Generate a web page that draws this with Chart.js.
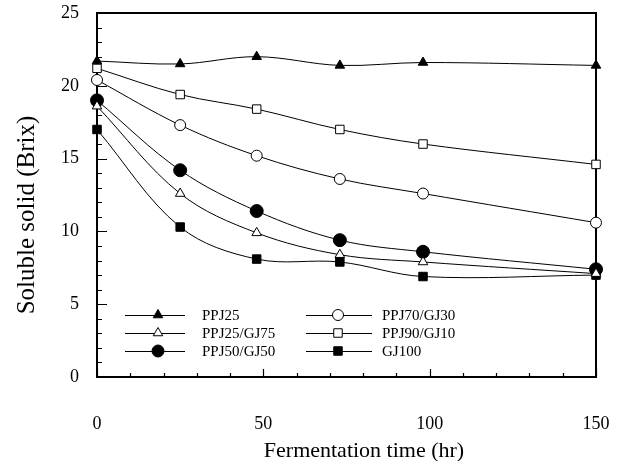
<!DOCTYPE html>
<html>
<head>
<meta charset="utf-8">
<script src="https://cdn.jsdelivr.net/npm/chart.js@4.4.0/dist/chart.umd.min.js"></script>
<style>
  html, body { margin: 0; padding: 0; background: #fff; }
</style>
</head>
<body>
<canvas id="brixChart" width="624" height="461"></canvas>
<script>
// Data
const hours = [0, 25, 48, 73, 98, 150];
const ppj25 = [21.7, 21.5, 22.0, 21.4, 21.6, 21.4];
const ppj25gj75 = [18.6, 12.6, 9.9, 8.4, 7.9, 7.1];
const ppj50gj50 = [19.0, 14.2, 11.4, 9.4, 8.6, 7.4];
const ppj70gj30 = [20.4, 17.3, 15.2, 13.6, 12.6, 10.6];
const ppj90gj10 = [21.2, 19.4, 18.4, 17.0, 16.0, 14.6];
const gj100 = [17.0, 10.3, 8.1, 7.9, 6.9, 7.0];

const seriesNames = ["PPJ25", "PPJ25/GJ75", "PPJ50/GJ50", "PPJ70/GJ30", "PPJ90/GJ10", "GJ100"];
const yTitle = "Soluble solid (Brix)";
const xTitle = "Fermentation time (hr)";

const serif = "'Liberation Serif', 'Times New Roman', serif";

function series(label, values, style, filled, radius) {
  return {
    label: label,
    data: hours.map((h, i) => ({ x: h, y: values[i] })),
    borderColor: "#000",
    borderWidth: 1,
    tension: 0.35,
    pointStyle: style,
    pointRadius: radius,
    pointHoverRadius: radius,
    pointBorderWidth: 1,
    pointBorderColor: "#000",
    pointBackgroundColor: filled ? "#000" : "#fff",
    clip: false,
  };
}

const datasets = [
  series(seriesNames[0], ppj25, "triangle", true, 5.5),
  series(seriesNames[1], ppj25gj75, "triangle", false, 5.5),
  series(seriesNames[2], ppj50gj50, "circle", true, 6.5),
  series(seriesNames[3], ppj70gj30, "circle", false, 5.5),
  series(seriesNames[4], ppj90gj10, "rect", false, 6),
  series(seriesNames[5], gj100, "rect", true, 6),
];

// frame and inward ticks
const frameTicks = {
  id: "frameTicks",
  beforeDatasetsDraw(chart) {
    const { ctx, chartArea: a, scales } = chart;
    ctx.save();
    ctx.strokeStyle = "#000";
    ctx.lineWidth = 1.2;
    ctx.beginPath();
    scales.y.ticks.forEach((t) => {
      const py = Math.round(scales.y.getPixelForValue(t.value)) + 0.5;
      const len = t.value % 5 === 0 ? 10 : 5;
      ctx.moveTo(a.left, py);
      ctx.lineTo(a.left + len, py);
    });
    scales.x.ticks.forEach((t) => {
      const px = Math.round(scales.x.getPixelForValue(t.value)) + 0.5;
      const len = t.value % 50 === 0 ? 8 : 4;
      ctx.moveTo(px, a.bottom);
      ctx.lineTo(px, a.bottom - len);
    });
    ctx.stroke();
    ctx.lineWidth = 2;
    ctx.strokeRect(a.left, a.top, a.right - a.left, a.bottom - a.top);
    ctx.restore();
  },
};

// two-column legend inside the plot, line + marker
const insideLegend = {
  id: "insideLegend",
  afterDatasetsDraw(chart) {
    const { ctx } = chart;
    const cols = [
      { x: 125, len: 60, mark: 33, text: 77, items: [0, 1, 2] },
      { x: 306, len: 66, mark: 32, text: 76, items: [3, 4, 5] },
    ];
    const rows = [315, 333, 351];
    ctx.save();
    ctx.font = "15px " + serif;
    ctx.textBaseline = "middle";
    ctx.fillStyle = "#000";
    cols.forEach((c) => {
      c.items.forEach((di, r) => {
        const ds = chart.data.datasets[di];
        const y = rows[r];
        ctx.strokeStyle = "#000";
        ctx.lineWidth = 1;
        ctx.beginPath();
        ctx.moveTo(c.x, y + 0.5);
        ctx.lineTo(c.x + c.len, y + 0.5);
        ctx.stroke();
        ctx.fillStyle = ds.pointBackgroundColor;
        Chart.helpers.drawPoint(ctx, {
          pointStyle: ds.pointStyle,
          radius: Math.min(ds.pointRadius, 6),
          borderWidth: 1,
          rotation: 0,
        }, c.x + c.mark, y);
        ctx.fillStyle = "#000";
        ctx.fillText(ds.label, c.x + c.text, y + 1);
      });
    });
    ctx.restore();
  },
};

const axisTitles = {
  id: "axisTitles",
  afterDraw(chart) {
    const { ctx, chartArea: a } = chart;
    ctx.save();
    ctx.fillStyle = "#000";
    ctx.textAlign = "center";
    ctx.textBaseline = "middle";
    ctx.font = "22px " + serif;
    ctx.fillText(xTitle, 364, 451);
    ctx.font = "25px " + serif;
    ctx.translate(27, (a.top + a.bottom) / 2 + 20);
    ctx.rotate(-Math.PI / 2);
    ctx.fillText(yTitle, 0, 0);
    ctx.restore();
  },
};

// keep the plot box where the layout padding puts it
function noEdgePadding(s) {
  s.paddingTop = 0;
  s.paddingBottom = 0;
  s.paddingLeft = 0;
  s.paddingRight = 0;
}

new Chart(document.getElementById("brixChart"), {
  type: "line",
  data: { datasets: datasets },
  options: {
    responsive: false,
    animation: false,
    layout: { autoPadding: false, padding: { left: 0, top: 13, right: 28, bottom: 0 } },
    plugins: {
      legend: { display: false },
      tooltip: { enabled: false },
    },
    scales: {
      x: {
        type: "linear",
        min: 0,
        max: 150,
        grid: { display: false, drawTicks: false },
        border: { display: false },
        ticks: {
          stepSize: 10,
          autoSkip: false,
          maxRotation: 0,
          padding: 36,
          color: "#000",
          font: { family: serif, size: 18 },
          callback: (v) => (v % 50 === 0 ? v : ""),
        },
        afterFit: (s) => { s.height = 84; noEdgePadding(s); },
      },
      y: {
        min: 0,
        max: 25,
        grid: { display: false, drawTicks: false },
        border: { display: false },
        ticks: {
          stepSize: 1,
          autoSkip: false,
          padding: 18,
          color: "#000",
          font: { family: serif, size: 18 },
          callback: (v) => (v % 5 === 0 ? v : ""),
        },
        afterFit: (s) => { s.width = 97; noEdgePadding(s); },
      },
    },
  },
  plugins: [frameTicks, insideLegend, axisTitles],
});
</script>
</body>
</html>
